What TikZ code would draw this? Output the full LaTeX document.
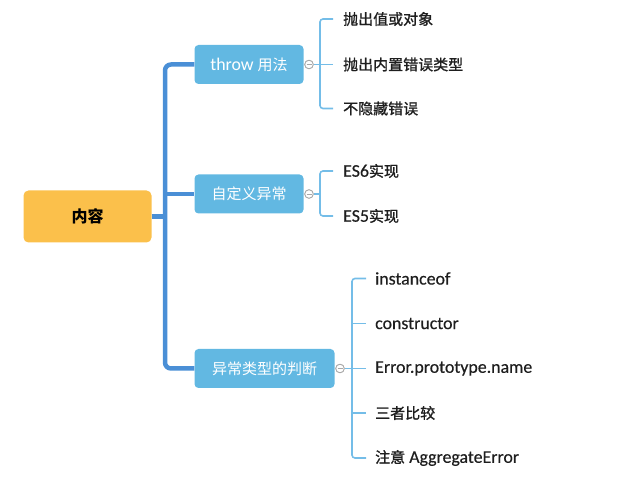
\documentclass[tikz,border=0pt]{standalone}
\usepackage{fontspec}
\setmainfont{Carlito}[Scale=1.19]
\newfontfamily\cjk{Noto Sans CJK SC}
\newfontfamily\cjkleaf{Noto Sans CJK SC}[FakeBold=1.2]
\newfontfamily\latleaf{Carlito}[Scale=1.19,FakeBold=0.35]
\newcommand{\cj}[1]{{\cjk #1}}
\newcommand{\cl}[1]{{\cjkleaf #1}}
\definecolor{rootfill}{HTML}{FBC04B}
\definecolor{childfill}{HTML}{62B8E2}
\definecolor{trunkcol}{HTML}{4A8FD6}
\definecolor{leafline}{HTML}{74BDE8}
\definecolor{leaftext}{HTML}{1E1E1E}
\definecolor{knob}{HTML}{A8A8A8}
\tikzset{
  rootbox/.style={fill=rootfill, rounded corners=5pt, minimum width=128pt, minimum height=52pt, inner sep=0pt, font=\fontsize{16}{18}\selectfont\bfseries},
  childbox/.style={fill=childfill, rounded corners=4pt, minimum height=39pt, inner sep=0pt, text=white, font=\fontsize{15}{18}\selectfont},
  leaf/.style={anchor=west, inner sep=0pt, text=leaftext, font=\fontsize{15}{18}\selectfont\latleaf},
  trunk/.style={draw=trunkcol, line width=4.5pt, rounded corners=6pt},
  leafl/.style={draw=leafline, line width=1.6pt, rounded corners=3pt},
  knobc/.style={circle, draw=knob, fill=white, line width=0.8pt, minimum size=8.5pt, inner sep=0pt, path picture={\draw[knob, line width=0.8pt] ([xshift=-2.5pt]path picture bounding box.center) -- ([xshift=2.5pt]path picture bounding box.center);}},
}
\begin{document}
\begin{tikzpicture}[x=1pt,y=-1pt]
\useasboundingbox (0,0) rectangle (622,481);
% nodes
\node[rootbox] (root) at (87.5,216.5) {\cj{\bfseries 内容}};
\node[childbox, minimum width=109pt] (c1) at (249,64.5) {throw \cj{用法}};
\node[childbox, minimum width=109pt] (c2) at (249,194) {\cj{自定义异常}};
\node[childbox, minimum width=140pt] (c3) at (264.5,368.5) {\cj{异常类型的判断}};
% knobs
\node[knobc] (k1) at (309,64.5) {};
\node[knobc] (k2) at (309,194) {};
\node[knobc] (k3) at (340,368.5) {};
% leaves
\node[leaf] (a1) at (343,19) {\cl{抛出值或对象}};
\node[leaf] (a2) at (343,64.5) {\cl{抛出内置错误类型}};
\node[leaf] (a3) at (343,108.5) {\cl{不隐藏错误}};
\node[leaf] (b1) at (343,171) {ES6\cl{实现}};
\node[leaf] (b2) at (343,216) {ES5\cl{实现}};
\node[leaf] (d1) at (375,278.5) {instanceof};
\node[leaf] (d2) at (375,323.5) {constructor};
\node[leaf] (d3) at (375,368.5) {Error.prototype.name};
\node[leaf] (d4) at (375,413) {\cl{三者比较}};
\node[leaf] (d5) at (375,458) {\cl{注意} AggregateError};
% trunk
\coordinate (tk) at (165,216.5);
\draw[trunk] (c1.west) -| (tk) |- (c3.west);
\draw[trunk, rounded corners=0pt] (root.east) -- (tk);
\draw[trunk, rounded corners=0pt] (tk |- c2.west) -- (c2.west);
% branch 1
\coordinate (v1) at (320,64.5);
\draw[leafl] ([xshift=-10pt]a1.west) -| (v1) |- ([xshift=-10pt]a3.west);
\draw[leafl] (k1.east) -- ([xshift=-10pt]a2.west);
% branch 2
\coordinate (v2) at (320,194);
\draw[leafl] ([xshift=-10pt]b1.west) -| (v2) |- ([xshift=-10pt]b2.west);
\draw[leafl] (k2.east) -- (v2);
% branch 3
\coordinate (v3) at (352,368.5);
\draw[leafl] ([xshift=-9pt]d1.west) -| (v3) |- ([xshift=-9pt]d5.west);
\draw[leafl] (k3.east) -- ([xshift=-9pt]d3.west);
\draw[leafl] (v3 |- d2.west) -- ([xshift=-9pt]d2.west);
\draw[leafl] (v3 |- d4.west) -- ([xshift=-9pt]d4.west);
% redraw knobs on top
\node[knobc] at (k1) {};
\node[knobc] at (k2) {};
\node[knobc] at (k3) {};
\end{tikzpicture}
\end{document}
